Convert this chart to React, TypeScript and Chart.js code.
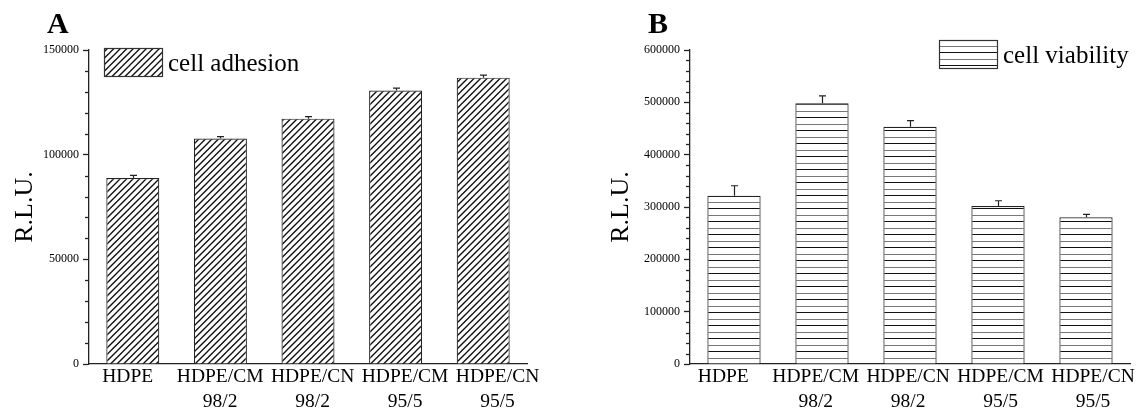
import React, { useEffect, useRef } from 'react';
import { Chart, registerables } from 'chart.js';

Chart.register(...registerables);

// ---------- data ----------
const categories: string[][] = [
  ['HDPE'],
  ['HDPE/CM', '98/2'],
  ['HDPE/CN', '98/2'],
  ['HDPE/CM', '95/5'],
  ['HDPE/CN', '95/5'],
];
const adhesionValues = [88850, 107700, 117200, 130600, 136800];
const adhesionErrors = [1300, 950, 950, 1150, 1150];
const viabilityValues = [321600, 498200, 453400, 301900, 280300];
const viabilityErrors = [19000, 14000, 11500, 10000, 5700];
const adhesionTicks = [0, 50000, 100000, 150000];
const viabilityTicks = [0, 100000, 200000, 300000, 400000, 500000, 600000];
const adhesionLegend = 'cell adhesion';
const viabilityLegend = 'cell viability';
const yTitle = 'R.L.U.';

const SERIF = '"Liberation Serif", "Times New Roman", serif';

function diagPattern(): CanvasPattern | string {
  const s = 13;
  const c = document.createElement('canvas');
  c.width = s;
  c.height = s;
  const g = c.getContext('2d');
  if (!g) return '#fff';
  g.fillStyle = '#fff';
  g.fillRect(0, 0, s, s);
  g.strokeStyle = '#111';
  g.lineWidth = 1.35;
  for (let k = -1; k <= 5; k++) {
    const cst = k * 6.5;
    g.beginPath();
    g.moveTo(cst + 3, -3);
    g.lineTo(cst - s - 3, s + 3);
    g.stroke();
  }
  const p = g.createPattern(c, 'repeat');
  return p || '#fff';
}

function hPattern(): CanvasPattern | string {
  const s = 13;
  const c = document.createElement('canvas');
  c.width = s;
  c.height = s;
  const g = c.getContext('2d');
  if (!g) return '#fff';
  g.fillStyle = '#fff';
  g.fillRect(0, 0, s, s);
  g.lineWidth = 1;
  g.strokeStyle = '#111';
  g.beginPath();
  g.moveTo(0, 0.5);
  g.lineTo(s, 0.5);
  g.stroke();
  g.strokeStyle = '#777';
  g.beginPath();
  g.moveTo(0, 7.5);
  g.lineTo(s, 7.5);
  g.stroke();
  const p = g.createPattern(c, 'repeat');
  return p || '#fff';
}

type Spec = {
  letter: string;
  values: number[];
  errors: number[];
  ticks: number[];
  minorStep: number;
  max: number;
  axisWidth: number;
  padRight: number;
  titlePad: number;
  labelMin: number;
  labelMax: number;
  legendText: string;
  legendBox: [number, number, number, number];
  legendTextPos: [number, number];
  letterPos: [number, number];
  patternKind: 'diag' | 'h';
};

function buildChart(canvas: HTMLCanvasElement, spec: Spec): Chart {
  const pattern = spec.patternKind === 'diag' ? diagPattern() : hPattern();

  const decor = {
    id: 'decor' + spec.letter,
    afterDatasetsDraw(chart: any) {
      const ctx = chart.ctx as CanvasRenderingContext2D;
      const ys = chart.scales.y;
      const meta = chart.getDatasetMeta(0);
      ctx.save();
      ctx.strokeStyle = '#222';
      ctx.lineWidth = 1.2;
      meta.data.forEach((bar: any, i: number) => {
        const yTop = ys.getPixelForValue(spec.values[i] + spec.errors[i]);
        const x = Math.round(bar.x) + 0.5;
        ctx.beginPath();
        ctx.moveTo(x, bar.y);
        ctx.lineTo(x, yTop);
        ctx.moveTo(x - 3.5, yTop);
        ctx.lineTo(x + 3.5, yTop);
        ctx.stroke();
      });
      ctx.restore();
    },
    afterDraw(chart: any) {
      const ctx = chart.ctx as CanvasRenderingContext2D;
      const ys = chart.scales.y;
      const left = chart.chartArea.left;
      ctx.save();
      // minor ticks
      ctx.strokeStyle = '#222';
      ctx.lineWidth = 1.3;
      for (let v = spec.minorStep; v < spec.max; v += spec.minorStep) {
        if (spec.ticks.indexOf(v) >= 0) continue;
        const y = Math.round(ys.getPixelForValue(v)) + 0.5;
        ctx.beginPath();
        ctx.moveTo(left - 4, y);
        ctx.lineTo(left, y);
        ctx.stroke();
      }
      // legend
      const [bx, by, bw, bh] = spec.legendBox;
      ctx.fillStyle = pattern as any;
      ctx.fillRect(bx, by, bw, bh);
      ctx.strokeStyle = '#333';
      ctx.lineWidth = 1.2;
      ctx.strokeRect(bx + 0.5, by + 0.5, bw, bh);
      ctx.fillStyle = '#000';
      ctx.font = '25px ' + SERIF;
      ctx.textBaseline = 'alphabetic';
      ctx.textAlign = 'left';
      ctx.fillText(spec.legendText, spec.legendTextPos[0], spec.legendTextPos[1]);
      // panel letter
      ctx.font = 'bold 30px ' + SERIF;
      ctx.fillText(spec.letter, spec.letterPos[0], spec.letterPos[1]);
      ctx.restore();
    },
  };

  return new Chart(canvas, {
    type: 'bar',
    data: {
      labels: categories.map((c) => c.join(' ')),
      datasets: [
        {
          data: spec.values,
          backgroundColor: pattern as any,
          borderColor: '#222',
          borderWidth: 1.2,
          barPercentage: 0.605,
          categoryPercentage: 1,
        },
      ],
    },
    options: {
      responsive: false,
      animation: false,
      events: [],
      layout: {
        autoPadding: false,
        padding: { left: 0, top: 50, right: spec.padRight, bottom: 0 },
      },
      plugins: {
        legend: { display: false },
        tooltip: { enabled: false },
        title: { display: false },
      },
      scales: {
        x: { type: 'category', display: false, offset: true },
        xl: {
          type: 'linear',
          position: 'bottom',
          bounds: 'data',
          offset: false,
          beginAtZero: false,
          min: spec.labelMin,
          max: spec.labelMax,
          grid: { display: false, drawTicks: false, offset: false },
          border: { display: true, color: '#222', width: 1.3 },
          ticks: {
            autoSkip: false,
            maxRotation: 0,
            minRotation: 0,
            padding: 0,
            color: '#000',
            font: { family: SERIF, size: 19.5, lineHeight: '25px' },
            callback: (v: any) => categories[Math.round(Number(v))] || '',
          },
          afterBuildTicks: (s: any) => {
            s.ticks = categories.map((_, i) => ({ value: i }));
            s.min = spec.labelMin;
            s.max = spec.labelMax;
          },
          afterFit: (s: any) => {
            s.height = 50;
          },
        } as any,
        y: {
          type: 'linear',
          position: 'left',
          min: 0,
          max: spec.max,
          afterBuildTicks: (s: any) => {
            s.ticks = spec.ticks.map((v) => ({ value: v }));
          },
          afterFit: (s: any) => {
            s.width = spec.axisWidth;
          },
          grid: {
            display: true,
            drawOnChartArea: false,
            drawTicks: true,
            tickLength: 6,
            tickColor: '#222',
            tickWidth: 1.3,
          },
          border: { display: true, color: '#222', width: 1.3 },
          ticks: {
            color: '#000',
            padding: 4,
            font: { family: SERIF, size: 12 },
            callback: (v: any) => String(v),
          },
          title: {
            display: true,
            text: yTitle,
            color: '#000',
            font: { family: SERIF, size: 26, lineHeight: 1.2 },
            padding: { top: spec.titlePad, bottom: 0 },
          },
        } as any,
      },
    },
    plugins: [decor],
  } as any);
}

const specA: Spec = {
  letter: 'A',
  values: adhesionValues,
  errors: adhesionErrors,
  ticks: adhesionTicks,
  minorStep: 10000,
  max: 150000,
  axisWidth: 89,
  padRight: 45,
  titlePad: 10,
  labelMin: -0.419,
  labelMax: 4.319,
  legendText: adhesionLegend,
  legendBox: [104, 48, 58, 28],
  legendTextPos: [168, 71],
  letterPos: [47, 33],
  patternKind: 'diag',
};

const specB: Spec = {
  letter: 'B',
  values: viabilityValues,
  errors: viabilityErrors,
  ticks: viabilityTicks,
  minorStep: 20000,
  max: 600000,
  axisWidth: 90,
  padRight: 15,
  titlePad: 6,
  labelMin: -0.36,
  labelMax: 4.4,
  legendText: viabilityLegend,
  legendBox: [339, 40, 58, 28],
  legendTextPos: [403, 63],
  letterPos: [48, 33],
  patternKind: 'h',
};

function Panel({ spec, left, width }: { spec: Spec; left: number; width: number }) {
  const ref = useRef<HTMLCanvasElement | null>(null);
  useEffect(() => {
    if (!ref.current) return;
    const chart = buildChart(ref.current, spec);
    return () => chart.destroy();
  }, [spec]);
  return (
    <canvas
      ref={ref}
      width={width}
      height={414}
      style={{ position: 'absolute', left, top: 0, width, height: 414, display: 'block' }}
    />
  );
}

export default function App() {
  return (
    <div
      style={{
        position: 'fixed',
        left: 0,
        top: 0,
        width: 1145,
        height: 414,
        background: '#fff',
        overflow: 'hidden',
      }}
    >
      <Panel spec={specA} left={0} width={572} />
      <Panel spec={specB} left={600} width={545} />
    </div>
  );
}
